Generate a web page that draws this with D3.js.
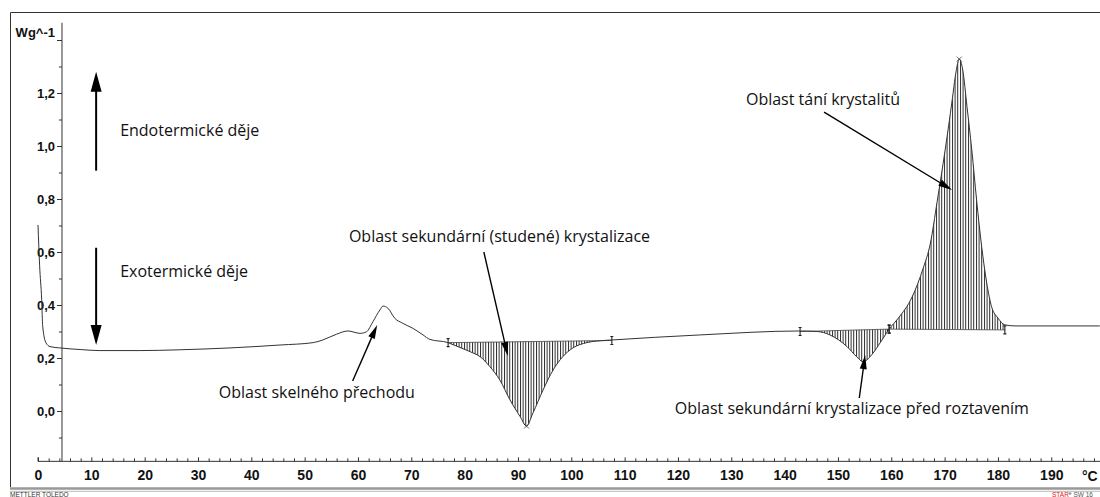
<!DOCTYPE html>
<html lang="cs">
<head>
<meta charset="UTF-8">
<title>DSC křivka</title>
<style>
  html, body { margin: 0; padding: 0; background: #fff; }
  svg { display: block; }
  .tick text { font-family: "Liberation Sans", Arial, sans-serif; font-weight: bold; fill: #111; }
  .note { font-family: "Open Sans", sans-serif; font-size: 16px; fill: #111; }
</style>
</head>
<body>
<svg id="chart" width="1100" height="497"></svg>
<script src="https://d3js.org/d3.v7.min.js"></script>
<script>
// teplota (°C) a tepelný tok (W/g)
var temps = [0, 0.3, 0.69, 0.88, 1.5, 2.25, 4.1, 7.9, 11.6, 19.1, 26.6, 36, 45.4, 51.6, 53.4, 56.0, 58.1, 60.4,
  61.6, 62.8, 64.1, 64.7, 65.6, 66.9, 68.4, 70.3, 72.2, 73.5, 76.9, 77.25, 81.0, 82.9, 84.75, 86.6, 88.5, 90.4,
  91.6, 92.8, 94.7, 96.6, 98.4, 100.3, 102.9, 105.4, 107.6, 124.1, 142.9, 146.1, 148.5, 151.7, 153.5, 154.7,
  156.6, 157.9, 159.1, 159.6, 161.3, 163.9, 166.0, 167.3, 168.6, 170.1, 171.4, 172.1, 172.75, 173.4, 174.2,
  175.1, 176.0, 176.95, 177.9, 178.8, 180.0, 181.3, 183.2, 199.1];
var values = [0.702, 0.55, 0.42, 0.32, 0.257, 0.243, 0.238, 0.232, 0.228, 0.228, 0.231, 0.238, 0.249, 0.258,
  0.268, 0.290, 0.302, 0.293, 0.299, 0.337, 0.381, 0.396, 0.388, 0.350, 0.331, 0.312, 0.287, 0.270, 0.258,
  0.255, 0.224, 0.205, 0.167, 0.117, 0.042, -0.021, -0.057, -0.008, 0.079, 0.155, 0.205, 0.238, 0.258, 0.265,
  0.268, 0.287, 0.302, 0.300, 0.287, 0.243, 0.205, 0.186, 0.219, 0.257, 0.294, 0.309, 0.350, 0.430, 0.540,
  0.630, 0.790, 0.985, 1.170, 1.275, 1.328, 1.287, 1.148, 0.985, 0.796, 0.620, 0.483, 0.394, 0.351, 0.325,
  0.321, 0.321];

// integrované oblasti: začátek, konec a hodnoty základní čáry
var regionStart = [76.9, 142.9, 159.6];
var regionEnd = [107.6, 159.6, 181.3];
var baseStart = [0.258, 0.300, 0.309];
var baseEnd = [0.266, 0.309, 0.306];
var peakTemps = [91.6, 172.75];
var peakValues = [-0.057, 1.328];

var xTicks = [0, 10, 20, 30, 40, 50, 60, 70, 80, 90, 100, 110, 120, 130, 140, 150, 160, 170, 180, 190];
var yTicks = [0, 0.2, 0.4, 0.6, 0.8, 1.0, 1.2];

// popisky: text, teplota, hodnota
var noteText = ["Endotermické děje", "Exotermické děje", "Oblast sekundární (studené) krystalizace",
  "Oblast skelného přechodu", "Oblast sekundární krystalizace před roztavením", "Oblast tání krystalitů"];
var noteT = [15.4, 15.4, 58.3, 33.9, 119.4, 132.75];
var noteV = [1.038, 0.506, 0.638, 0.049, -0.011, 1.155];

// šipky: od (t1,v1) k hrotu (t2,v2)
var arrowT1 = [10.9, 10.9, 83.6, 59.0, 154.0, 147.4];
var arrowV1 = [0.907, 0.616, 0.600, 0.113, 0.049, 1.128];
var arrowT2 = [10.9, 10.9, 88.1, 63.6, 155.1, 171.4];
var arrowV2 = [1.28, 0.249, 0.2075, 0.325, 0.211, 0.834];

var svg = d3.select("#chart");

var x = d3.scaleLinear().domain([0, 200]).range([38, 38 + 200 * 5.333]);
var y = d3.scaleLinear().domain([-0.19, 1.465]).range([411 + 0.19 * 265, 411 - 1.465 * 265]);

// rámeček
svg.append("path").attr("d", "M1100,12.5H10.5V487").attr("fill", "none").attr("stroke", "#333");
svg.append("line").attr("x1", 10).attr("x2", 1100).attr("y1", 488.5).attr("y2", 488.5)
  .attr("stroke", "#999").attr("stroke-width", 2.5);
svg.append("line").attr("x1", 10).attr("x2", 1100).attr("y1", 491.3).attr("y2", 491.3)
  .attr("stroke", "#bbb").attr("stroke-width", 1);
svg.append("text").attr("x", 10).attr("y", 496.6).attr("font-family", "Liberation Sans, Arial")
  .attr("font-size", 6.5).attr("fill", "#333").text("METTLER TOLEDO");
var star = svg.append("text").attr("x", 1052).attr("y", 496.6).attr("font-family", "Liberation Sans, Arial")
  .attr("font-size", 6.5).attr("fill", "#555");
star.append("tspan").attr("fill", "#d22").text("STAR");
star.append("tspan").attr("font-size", 5).attr("dy", -1.5).text("e");
star.append("tspan").attr("dy", 1.5).text(" SW 16");

// šrafování
var defs = svg.append("defs");
defs.append("pattern").attr("id", "hatch").attr("patternUnits", "userSpaceOnUse")
  .attr("width", x(0.5) - x(0)).attr("height", 10)
  .append("line").attr("x1", 0.5).attr("x2", 0.5).attr("y1", 0).attr("y2", 10)
  .attr("stroke", "#111").attr("stroke-width", 0.9);

var pts = temps.map(function (t, i) { return [t, values[i]]; });

regionStart.forEach(function (t0, i) {
  var t1 = regionEnd[i];
  var bl = d3.scaleLinear().domain([t0, t1]).range([baseStart[i], baseEnd[i]]);
  var sub = pts.filter(function (p) { return p[0] >= t0 && p[0] <= t1; });
  var area = d3.area().curve(d3.curveMonotoneX)
    .x(function (p) { return x(p[0]); })
    .y0(function (p) { return y(bl(p[0])); })
    .y1(function (p) { return y(p[1]); });
  svg.append("path").attr("d", area(sub)).attr("fill", "url(#hatch)");
  svg.append("line").attr("x1", x(t0)).attr("x2", x(t1)).attr("y1", y(baseStart[i])).attr("y2", y(baseEnd[i]))
    .attr("stroke", "#444").attr("stroke-width", 0.8);
  [[t0, baseStart[i]], [t1, baseEnd[i]]].forEach(function (m) {
    var mx = x(m[0]), my = y(m[1]);
    svg.append("path").attr("d", "M" + mx + "," + (my - 4) + "V" + (my + 4) + "M" + (mx - 1.5) + "," + (my - 4) +
      "H" + (mx + 1.5) + "M" + (mx - 1.5) + "," + (my + 4) + "H" + (mx + 1.5))
      .attr("stroke", "#222").attr("stroke-width", 1.1).attr("fill", "none");
  });
});

peakTemps.forEach(function (t, i) {
  var px = x(t), py = y(peakValues[i]);
  svg.append("path").attr("d", "M" + (px - 2.5) + "," + (py - 2.5) + "L" + (px + 2.5) + "," + (py + 2.5) +
    "M" + (px - 2.5) + "," + (py + 2.5) + "L" + (px + 2.5) + "," + (py - 2.5))
    .attr("stroke", "#444").attr("stroke-width", 0.8);
});

// osy
var xMinor = d3.range(0, 201, 2).filter(function (d) { return d % 10 !== 0; });
svg.append("g").attr("transform", "translate(0," + y(-0.19) + ")")
  .call(d3.axisBottom(x).tickValues(xMinor).tickSize(-3).tickFormat(""))
  .call(function (g) { g.select(".domain").remove(); g.selectAll("line").attr("stroke", "#333"); });
svg.append("g").attr("transform", "translate(0," + y(-0.19) + ")")
  .call(d3.axisBottom(x).tickValues(xTicks.concat([200])).tickSize(-4).tickPadding(9)
    .tickFormat(function (d) { return d === 200 ? "" : d; }))
  .call(function (g) {
    g.select(".domain").attr("stroke", "#333").attr("d", "M" + x(0) + ",-4V0H1100");
    g.selectAll("line").attr("stroke", "#333");
    g.selectAll("text").attr("font-size", 14);
  });
svg.append("text").attr("x", 1082).attr("y", 481).attr("font-family", "Liberation Sans, Arial")
  .attr("font-weight", "bold").attr("font-size", 14).attr("fill", "#111").text("°C");

var yAxisX = x(4.5);
var yMinor = [-0.1, 0.1, 0.3, 0.5, 0.7, 0.9, 1.1, 1.3];
svg.append("g").attr("transform", "translate(" + yAxisX + ",0)")
  .call(d3.axisLeft(y).tickValues(yMinor).tickSize(3).tickFormat(""))
  .call(function (g) { g.select(".domain").remove(); g.selectAll("line").attr("stroke", "#333"); });
svg.append("g").attr("transform", "translate(" + yAxisX + ",0)")
  .call(d3.axisLeft(y).tickValues(yTicks.concat([1.4])).tickSize(5).tickPadding(2)
    .tickFormat(function (d) { return d === 1.4 ? "" : d3.format(".1f")(d).replace(".", ","); }))
  .call(function (g) {
    g.select(".domain").attr("stroke", "#333").attr("d", "M0," + y(1.465) + "V" + y(-0.19));
    g.selectAll("line").attr("stroke", "#333");
    g.selectAll("text").attr("font-size", 13);
  });
svg.append("text").attr("x", yAxisX - 7).attr("y", y(1.4) - 3).attr("text-anchor", "end")
  .attr("font-family", "Liberation Sans, Arial").attr("font-weight", "bold").attr("font-size", 13)
  .attr("fill", "#111").text("Wg^-1");

// křivka
var line = d3.line().curve(d3.curveMonotoneX)
  .x(function (p) { return x(p[0]); })
  .y(function (p) { return y(p[1]); });
svg.append("path").attr("d", line(pts)).attr("fill", "none").attr("stroke", "#333").attr("stroke-width", 1);

// popisky
noteText.forEach(function (s, i) {
  svg.append("text").attr("class", "note").attr("x", x(noteT[i])).attr("y", y(noteV[i])).text(s);
});

// šipky
arrowT1.forEach(function (t, i) {
  var x1 = x(t), y1 = y(arrowV1[i]), x2 = x(arrowT2[i]), y2 = y(arrowV2[i]);
  var big = i < 2;
  var len = big ? 20 : 14, w = big ? 5.5 : 3.5;
  var dx = x2 - x1, dy = y2 - y1, d = Math.sqrt(dx * dx + dy * dy);
  var ux = dx / d, uy = dy / d;
  var bx = x2 - ux * len, by = y2 - uy * len;
  svg.append("line").attr("x1", x1).attr("y1", y1).attr("x2", bx + ux * 2).attr("y2", by + uy * 2)
    .attr("stroke", "#000").attr("stroke-width", big ? 2 : 1.4);
  svg.append("path").attr("d", "M" + x2 + "," + y2 + "L" + (bx - uy * w) + "," + (by + ux * w) +
    "L" + (bx + uy * w) + "," + (by - ux * w) + "Z").attr("fill", "#000");
});
</script>
</body>
</html>
